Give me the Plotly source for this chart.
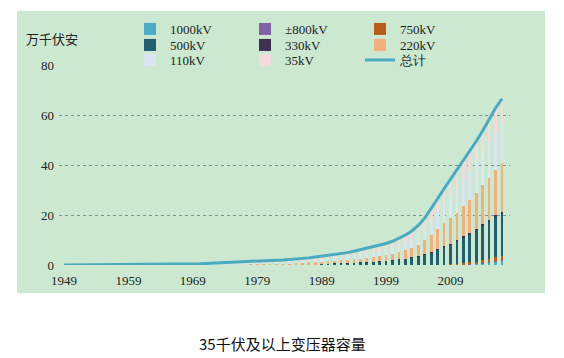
import plotly.graph_objects as go

years = list(range(1949, 2018))

kv1000 = [0]*60 + [0.1, 0.1, 0.2, 0.3, 0.4, 0.6, 0.9, 1.3, 1.6]
kv800 = [0]*60 + [0, 0.05, 0.1, 0.15, 0.2, 0.25, 0.35, 0.5, 0.6]
kv750 = [0]*50 + [0, 0, 0, 0, 0, 0, 0.02, 0.05, 0.08, 0.1] + [0.2, 0.35, 0.5, 0.6, 0.8, 1.0, 1.2, 1.4, 1.6]
kv500 = ([0]*30
         + [0, 0, 0.02, 0.05, 0.08, 0.12, 0.16, 0.20, 0.26, 0.32]
         + [0.40, 0.48, 0.56, 0.64, 0.74, 0.84, 0.96, 1.10, 1.25, 1.40]
         + [1.6, 1.85, 2.1, 2.4, 2.8, 3.3, 4.0, 5.0, 6.0, 7.0]
         + [7.9, 9.0, 10.2, 11.2, 12.6, 13.8, 15.0, 16.0, 16.6])
kv330 = ([0]*20
         + [0, 0, 0, 0.01, 0.01, 0.02, 0.02, 0.03, 0.03, 0.03]
         + [0.04, 0.04, 0.04, 0.05, 0.05, 0.05, 0.06, 0.06, 0.07, 0.07]
         + [0.08, 0.08, 0.09, 0.10, 0.10, 0.11, 0.12, 0.13, 0.14, 0.15]
         + [0.16, 0.17, 0.18, 0.2, 0.22, 0.25, 0.28, 0.3, 0.33, 0.36]
         + [0.4, 0.44, 0.48, 0.52, 0.56, 0.6, 0.65, 0.7, 0.75])
kv220 = ([0, 0, 0, 0, 0, 0.01, 0.01, 0.01, 0.02, 0.03]
         + [0.04, 0.05, 0.06, 0.07, 0.07, 0.08, 0.09, 0.10, 0.10, 0.11]
         + [0.12, 0.13, 0.16, 0.20, 0.23, 0.26, 0.29, 0.32, 0.36, 0.40]
         + [0.44, 0.48, 0.50, 0.52, 0.55, 0.58, 0.62, 0.66, 0.70, 0.76]
         + [0.85, 0.92, 1.00, 1.08, 1.20, 1.35, 1.50, 1.65, 1.80, 2.00]
         + [2.24, 2.48, 2.92, 3.4, 3.98, 4.65, 5.7, 6.65, 8.09, 9.54]
         + [10.4, 11.06, 12.02, 13.23, 14.44, 15.75, 16.9, 18.1, 19.85])
kv110 = ([0, 0, 0.01, 0.01, 0.01, 0.01, 0.02, 0.02, 0.03, 0.04]
         + [0.05, 0.06, 0.07, 0.08, 0.09, 0.09, 0.10, 0.11, 0.12, 0.12]
         + [0.13, 0.15, 0.18, 0.22, 0.25, 0.28, 0.31, 0.34, 0.39, 0.44]
         + [0.49, 0.54, 0.57, 0.59, 0.61, 0.65, 0.70, 0.76, 0.83, 0.94]
         + [1.0, 1.08, 1.15, 1.27, 1.39, 1.54, 1.70, 1.86, 2.01, 2.14]
         + [2.4, 2.65, 2.9, 3.25, 3.6, 4.2, 4.95, 5.95, 6.9, 7.8]
         + [9.0, 10.1, 10.8, 11.7, 12.5, 13.3, 14.2, 15.4, 15.9])
kv35 = ([0.03, 0.04, 0.04, 0.05, 0.06, 0.06, 0.06, 0.07, 0.07, 0.08]
        + [0.09, 0.11, 0.12, 0.13, 0.14, 0.15, 0.16, 0.17, 0.18, 0.19]
        + [0.20, 0.22, 0.26, 0.32, 0.36, 0.39, 0.43, 0.46, 0.52, 0.58]
        + [0.63, 0.69, 0.72, 0.74, 0.76, 0.80, 0.86, 0.92, 0.99, 1.11]
        + [1.17, 1.24, 1.30, 1.41, 1.52, 1.66, 1.82, 1.96, 2.10, 2.21]
        + [2.2, 2.35, 2.5, 2.75, 3.0, 3.4, 3.85, 4.55, 5.1, 5.7]
        + [6.3, 6.9, 7.2, 7.6, 8.0, 8.4, 8.8, 9.4, 9.6])
total = ([0.03, 0.04, 0.05, 0.06, 0.07, 0.08, 0.09, 0.10, 0.12, 0.15]
         + [0.18, 0.22, 0.25, 0.28, 0.30, 0.32, 0.35, 0.38, 0.40, 0.42]
         + [0.45, 0.50, 0.60, 0.75, 0.85, 0.95, 1.05, 1.15, 1.30, 1.45]
         + [1.60, 1.75, 1.85, 1.95, 2.05, 2.20, 2.40, 2.60, 2.85, 3.20]
         + [3.50, 3.80, 4.10, 4.50, 4.95, 5.50, 6.10, 6.70, 7.30, 7.90]
         + [8.60, 9.50, 10.6, 12.0, 13.6, 15.8, 18.8, 22.5, 26.5, 30.5]
         + [34.3, 38.0, 41.5, 45.3, 49.5, 53.7, 58.0, 62.8, 66.5])

x_ticks = [1949, 1959, 1969, 1979, 1989, 1999, 2009]
y_ticks = [0, 20, 40, 60, 80]

series = [
    ("1000kV", kv1000, "#4BACC6", "legend"),
    ("±800kV", kv800, "#8064A2", "legend"),
    ("750kV", kv750, "#B65E1A", "legend"),
    ("500kV", kv500, "#215E6E", "legend2"),
    ("330kV", kv330, "#3F3151", "legend2"),
    ("220kV", kv220, "#F2B07C", "legend2"),
    ("110kV", kv110, "#DCE6F2", "legend3"),
    ("35kV", kv35, "#F2DCDB", "legend3"),
]

SERIF = "Liberation Serif, Times New Roman, serif"
CJK = "Noto Sans CJK SC, sans-serif"

fig = go.Figure()
for name, vals, color, lg in series:
    fig.add_trace(go.Bar(x=years, y=vals, name=name, marker_color=color,
                         marker_line_width=0, width=0.42, legend=lg))
fig.add_trace(go.Scatter(x=years, y=total, name="总计", mode="lines",
                         line=dict(color="#4AAABF", width=3), legend="legend3"))

# page body has an 8px margin: design in screen pixels, then shift
OFF = 8
W, H = 564, 358
L = 59 - OFF
T = 65 - OFF
pw, ph = 451, 200
R = W - L - pw
B = H - T - ph


def px2x(px):
    return (px - OFF - L) / pw


def py2y(py):
    return (T + ph - (py - OFF)) / ph


legend_common = dict(orientation="h", xanchor="left", yanchor="middle",
                     traceorder="normal",
                     bgcolor="rgba(0,0,0,0)", entrywidth=70, entrywidthmode="pixels",
                     font=dict(family=SERIF, size=13, color="#222"),
                     itemclick=False, tracegroupgap=0)

fig.update_layout(
    width=W, height=H,
    margin=dict(l=L, r=R, t=T, b=B, autoexpand=False),
    paper_bgcolor="white",
    plot_bgcolor="rgba(0,0,0,0)",
    barmode="stack",
    showlegend=True,
    legend=dict(x=px2x(130), y=py2y(29), **legend_common),
    legend2=dict(x=px2x(130), y=py2y(45), **legend_common),
    legend3=dict(x=px2x(130), y=py2y(60), **legend_common),
    xaxis=dict(range=[1948.22, 2018.24], tickvals=x_ticks,
               ticktext=[str(v) for v in x_ticks], showgrid=False,
               zeroline=False, showline=False, ticks="", ticklabelstandoff=6,
               tickfont=dict(family=SERIF, size=13, color="#222")),
    yaxis=dict(range=[0, 80], tickvals=y_ticks, showgrid=True,
               gridcolor="#7E9494", griddash="dot", gridwidth=1,
               zeroline=False, showline=False, ticks="", ticklabelstandoff=4,
               tickfont=dict(family=SERIF, size=13, color="#222")),
    shapes=[dict(type="rect", xref="paper", yref="paper",
                 x0=px2x(17), x1=px2x(545), y0=py2y(293), y1=py2y(11),
                 fillcolor="#CDE8D1", line_width=0, layer="below")],
    annotations=[
        dict(text="万千伏安", xref="paper", yref="paper", x=px2x(24), y=py2y(38),
             xanchor="left", yanchor="middle", showarrow=False,
             font=dict(family=CJK, size=13, color="#222")),
        dict(text="35千伏及以上变压器容量", xref="paper", yref="paper",
             x=px2x(282), y=py2y(343), xanchor="center", yanchor="middle",
             showarrow=False, font=dict(family=CJK, size=15, color="#111")),
    ],
)

fig.write_html("out.html")
